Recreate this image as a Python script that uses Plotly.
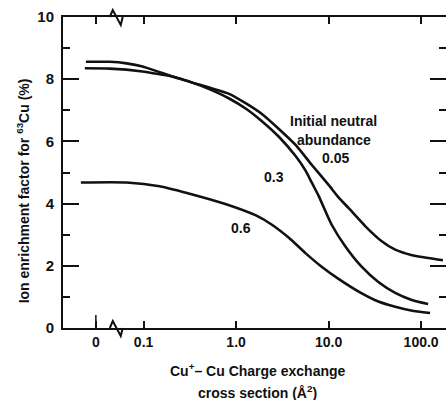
import numpy as np
import plotly.graph_objects as go

# Cross section (Å^2) positions (points left of the break sit in the "0" region)
x_005 = [0.0232, 0.0431, 0.0976, 0.149, 0.205, 0.336, 0.513, 0.841, 1.28, 1.90, 2.90, 4.42,
         6.56, 10.0, 12.8, 16.4, 25.0, 37.2, 52.5, 78.0, 119, 172]
y_005 = [8.35, 8.34, 8.25, 8.16, 8.09, 7.89, 7.73, 7.53, 7.22, 6.88, 6.40, 5.88,
         5.25, 4.60, 4.20, 3.86, 3.27, 2.80, 2.52, 2.35, 2.25, 2.18]

x_03 = [0.0238, 0.0431, 0.0656, 0.0976, 0.138, 0.205, 0.336, 0.513, 0.841, 1.28, 1.90, 2.90,
        4.42, 5.66, 6.56, 7.80, 10.8, 15.2, 22.6, 34.5, 52.5, 78.0, 119]
y_03 = [8.56, 8.56, 8.51, 8.41, 8.26, 8.09, 7.89, 7.68, 7.38, 7.05, 6.65, 6.15,
        5.52, 5.05, 4.68, 4.25, 3.32, 2.62, 1.98, 1.48, 1.13, 0.91, 0.77]

x_06 = [0.0210, 0.0656, 0.149, 0.353, 0.780, 1.64, 2.44, 3.72, 5.66, 8.41, 12.8, 22.6,
        34.5, 52.5, 78.0, 125]
y_06 = [4.68, 4.68, 4.56, 4.28, 3.98, 3.62, 3.32, 2.90, 2.40, 1.97, 1.58, 1.12,
        0.85, 0.68, 0.56, 0.48]

x_tickvals = [0.0305, 0.1, 1, 10, 100]
x_ticktext = ["0", "0.1", "1.0", "10.0", "100.0"]
y_tickvals = [0, 2, 4, 6, 8, 10]
y_ticktext = ["0", "2", "4", "6", "8", "10"]
x_break = 0.0513

FONT = "Liberation Sans"
BLACK = "#111111"

L, T = 63, 17
PLOT_W = 385  # plot area width in px (right edge sits just past the 446 px window)
PLOT_H = 311
X_RANGE = [-1.871, 2.269]

fig = go.Figure()
for xs, ys in [(x_005, y_005), (x_03, y_03), (x_06, y_06)]:
    fig.add_trace(go.Scatter(x=xs, y=ys, mode="lines",
                             line=dict(color=BLACK, width=2.6, shape="spline", smoothing=0.6),
                             showlegend=False, hoverinfo="skip"))

fig.update_layout(
    width=L + PLOT_W, height=400,
    margin=dict(l=L, r=0, t=T, b=400 - T - PLOT_H),
    paper_bgcolor="white", plot_bgcolor="white",
    font=dict(family=FONT, size=14, color=BLACK, weight="bold"),
    xaxis=dict(type="log", range=X_RANGE, tickmode="array", tickvals=x_tickvals, ticktext=x_ticktext,
               ticks="inside", ticklen=7, tickwidth=1.5, tickcolor=BLACK, showline=True, linecolor=BLACK, linewidth=2,
               mirror="ticks", showgrid=False, zeroline=False,
               tickfont=dict(family=FONT, size=14, color=BLACK, weight="bold")),
    yaxis=dict(range=[0, 10], tickmode="array", tickvals=y_tickvals, ticktext=y_ticktext,
               ticks="inside", ticklen=16, tickwidth=1.8, tickcolor=BLACK, showline=True, linecolor=BLACK, linewidth=2,
               mirror="ticks", showgrid=False, zeroline=False, ticklabelstandoff=4,
               minor=dict(dtick=1, ticks="inside", ticklen=7, tickwidth=1.5, tickcolor=BLACK, showgrid=False),
               tickfont=dict(family=FONT, size=15, color=BLACK, weight="bold")),
)

# axis break marks (zigzags on the bottom and top axis lines), drawn in paper units
bxp = (np.log10(x_break) - X_RANGE[0]) / (X_RANGE[1] - X_RANGE[0])
zig = [(-7, 0), (-4, 7), (4, -8), (6, 0)]
for yy in (0.0, 1.0):
    pts = [(bxp + dx / PLOT_W, yy + dy / PLOT_H) for dx, dy in zig]
    path = "M " + " L ".join(f"{px:.5f},{py:.5f}" for px, py in pts)
    fig.add_shape(type="path", xref="paper", yref="paper", path=path,
                  line=dict(color=BLACK, width=2), fillcolor="rgba(0,0,0,0)", layer="above")

# longer tick at the "0" position of the bottom axis
zx = (np.log10(x_tickvals[0]) - X_RANGE[0]) / (X_RANGE[1] - X_RANGE[0])
fig.add_shape(type="line", xref="paper", yref="paper", x0=zx, x1=zx, y0=0, y1=13 / PLOT_H,
              line=dict(color=BLACK, width=1.5))

def ann(text, x, y, xref="x", yref="y", **kw):
    fig.add_annotation(text=text, x=x, y=y, xref=xref, yref=yref, showarrow=False,
                       xanchor="center", yanchor="middle",
                       font=dict(family=FONT, size=14, color=BLACK, weight="bold"), **kw)

ann("Initial neutral", 1.054, 6.65)
ann("abundance", 1.054, 6.06)
ann("0.05", 1.075, 5.48)
ann("0.3", 0.409, 4.87)
ann("0.6", 0.054, 3.23)

ann("Ion enrichment factor for <sup>63</sup>Cu (%)", -40 / PLOT_W, 0.44, xref="paper", yref="paper", textangle=-90)
ann("Cu<sup>+</sup>\u2013 Cu Charge exchange", 196 / PLOT_W, -0.135, xref="paper", yref="paper")
ann("cross section (\u00c5<sup>2</sup>)", 196 / PLOT_W, -0.206, xref="paper", yref="paper")

fig.write_html("out.html", config={"displayModeBar": False}, post_script=(
    "document.body.style.margin='0';"
    "document.body.style.overflow='hidden';"
    "document.documentElement.style.overflow='hidden';"))
